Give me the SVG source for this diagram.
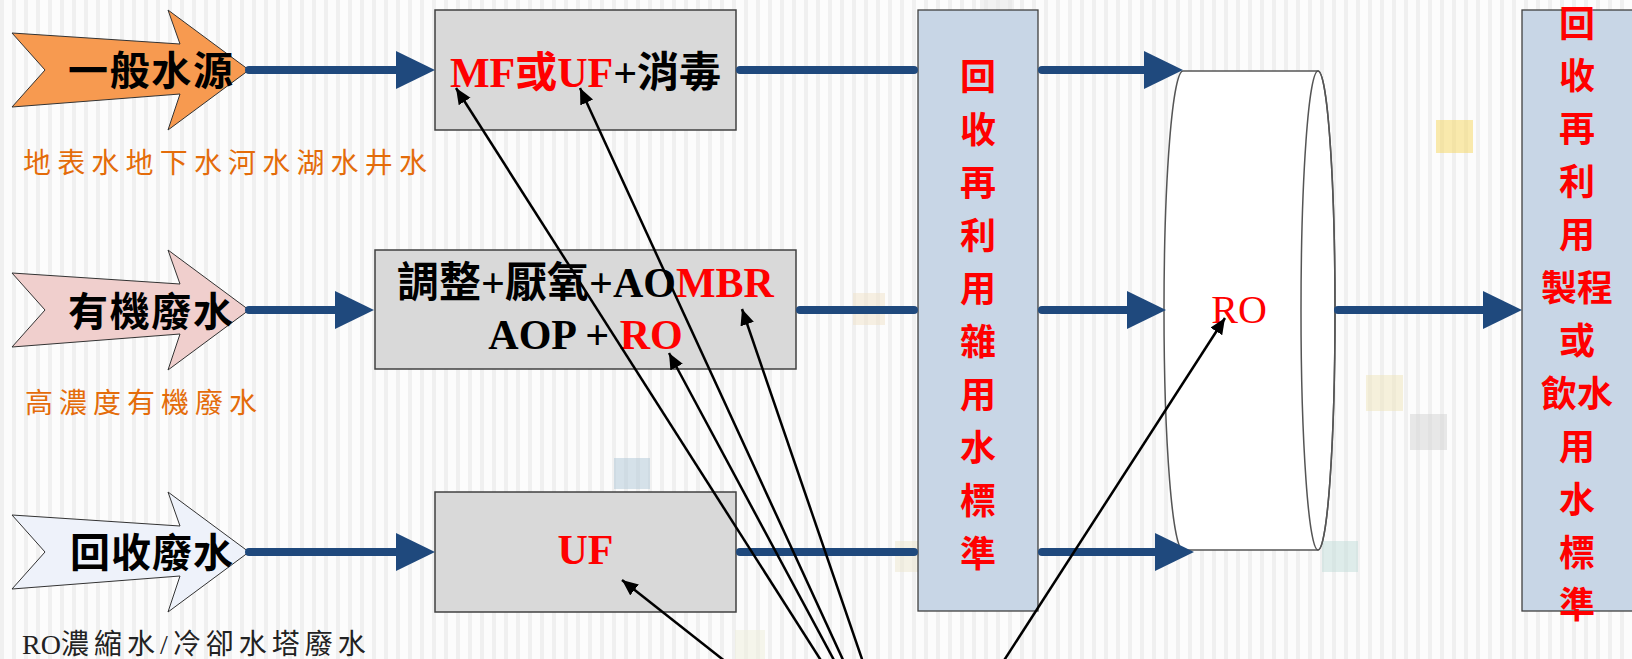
<svg xmlns="http://www.w3.org/2000/svg" width="1632" height="659" viewBox="0 0 1632 659">
<style>
.box{fill:#d9d9d9;stroke:#404040;stroke-width:1.5}
.col{fill:#c8d6e6;stroke:#404040;stroke-width:1.3}
.arr{stroke:#333;stroke-width:1}
.flow{stroke:#1f497d;stroke-width:8;fill:none;stroke-linecap:round}
.ptr{stroke:#000;stroke-width:2.5;fill:none}
.big{font-family:'Liberation Serif','Noto Sans CJK TC',serif;font-weight:bold;font-size:42px}
.atxt{font-family:'Noto Sans CJK TC',sans-serif;font-weight:bold;font-size:40px;fill:#000}
.lbl{font-family:'Liberation Serif','Noto Sans CJK TC',serif;font-size:28px}
.vt{font-family:'Noto Sans CJK TC',sans-serif;font-weight:bold;font-size:36px;fill:#ff0000;text-anchor:middle}
.red{fill:#ff0000}
.sq{opacity:0.55}
</style>
<defs>
<pattern id="stripes" width="12" height="10" patternUnits="userSpaceOnUse">
<rect width="12" height="10" fill="#fcfcfc"/>
<rect x="0" width="4" height="10" fill="#f0f0f0"/>
</pattern>
<marker id="bh" markerUnits="userSpaceOnUse" markerWidth="40" markerHeight="40" refX="19" refY="19" orient="auto">
<path d="M0,0 L39,19 L0,38 Z" fill="#1f497d"/>
</marker>
<marker id="kh" markerUnits="userSpaceOnUse" markerWidth="18" markerHeight="16" refX="16" refY="7" orient="auto">
<path d="M0,0 L16,7 L0,14 Z" fill="#000"/>
</marker>
</defs>
<g id="background">
<rect width="1632" height="659" fill="url(#stripes)"/>
<rect class="sq" x="1436" y="120" width="37" height="33" fill="#f5d86a"/>
<rect class="sq" x="1366" y="375" width="37" height="36" fill="#efe6c0"/>
<rect class="sq" x="1410" y="414" width="37" height="36" fill="#d6d6d6"/>
<rect class="sq" x="614" y="458" width="36" height="31" fill="#b4cad8"/>
<rect class="sq" x="1322" y="541" width="36" height="31" fill="#c4dedb"/>
<rect class="sq" x="895" y="541" width="36" height="31" fill="#ece8d2"/>
<rect class="sq" x="853" y="293" width="32" height="32" fill="#f0e4cc"/>
<rect class="sq" x="735" y="630" width="30" height="29" fill="#eeeedc"/>
<rect class="sq" x="980" y="0" width="34" height="9" fill="#e8e8e8"/>
</g>
<g id="src-general">
<polygon class="arr" fill="#f79a50" points="12,33 180,44 168,10 249,70 168,130 180,94 12,107 45,70"/>
<text class="atxt" x="68" y="85" textLength="165">一般水源</text>
<text class="lbl" x="23" y="173" fill="#e46c0a" textLength="404">地表水地下水河水湖水井水</text>
</g>
<g id="src-organic">
<polygon class="arr" fill="#f0cfcd" points="12,273 180,284 168,250 249,310 168,370 180,334 12,347 45,310"/>
<text class="atxt" x="68" y="326" textLength="165">有機廢水</text>
<text class="lbl" x="25" y="413" fill="#e46c0a" textLength="232">高濃度有機廢水</text>
</g>
<g id="src-recycle">
<polygon class="arr" fill="#eef2fa" points="12,515 180,526 168,492 249,552 168,612 180,576 12,589 45,552"/>
<text class="atxt" x="70" y="567" textLength="163">回收廢水</text>
<text class="lbl" x="22" y="654" fill="#222">RO<tspan letter-spacing="5">濃縮水/冷卻水塔廢水</tspan></text>
</g>
<g id="box-mf">
<rect class="box" x="435" y="10" width="301" height="120"/>
<text class="big" x="585.5" y="87" text-anchor="middle"><tspan class="red">MF或UF</tspan>+消毒</text>
</g>
<g id="box-mbr">
<rect class="box" x="375" y="250" width="421" height="119"/>
<text class="big" x="585.5" y="297" text-anchor="middle">調整+厭氧+AO<tspan class="red">MBR</tspan></text>
<text class="big" x="585.5" y="349" text-anchor="middle" xml:space="preserve">AOP + <tspan class="red">RO</tspan></text>
</g>
<g id="box-uf">
<rect class="box" x="435" y="492" width="301" height="120"/>
<text class="big red" x="585.5" y="564" text-anchor="middle">UF</text>
</g>
<g id="col-misc">
<rect class="col" x="918" y="10" width="120" height="601"/>
<text class="vt"><tspan x="978" y="90">回</tspan><tspan x="978" y="143">收</tspan><tspan x="978" y="196">再</tspan><tspan x="978" y="249">利</tspan><tspan x="978" y="302">用</tspan><tspan x="978" y="355">雜</tspan><tspan x="978" y="408">用</tspan><tspan x="978" y="461">水</tspan><tspan x="978" y="514">標</tspan><tspan x="978" y="567">準</tspan></text>
</g>
<g id="ro-unit">
<path d="M1183,71 L1318,71 A17,239.5 0 0 1 1318,550 L1183,550 A19,239.5 0 0 1 1183,71 Z" fill="#fff" stroke="#555" stroke-width="1.5"/>
<ellipse cx="1318" cy="310.5" rx="17" ry="239.5" fill="none" stroke="#555" stroke-width="1.5"/>
<text x="1239" y="323" text-anchor="middle" font-family="'Liberation Serif',serif" font-size="40" fill="#ff0000">RO</text>
</g>
<g id="col-process">
<rect class="col" x="1522" y="10" width="112" height="601"/>
<text class="vt"><tspan x="1577" y="37">回</tspan><tspan x="1577" y="89">收</tspan><tspan x="1577" y="142">再</tspan><tspan x="1577" y="195">利</tspan><tspan x="1577" y="248">用</tspan><tspan x="1577" y="301">製程</tspan><tspan x="1577" y="354">或</tspan><tspan x="1577" y="407">飲水</tspan><tspan x="1577" y="460">用</tspan><tspan x="1577" y="513">水</tspan><tspan x="1577" y="566">標</tspan><tspan x="1577" y="618">準</tspan></text>
</g>
<g id="flow-connectors">
<line class="flow" x1="249" y1="70" x2="415" y2="70" marker-end="url(#bh)"/>
<line class="flow" x1="740" y1="70" x2="914" y2="70"/>
<line class="flow" x1="1042" y1="70" x2="1163" y2="70" marker-end="url(#bh)"/>
<line class="flow" x1="249" y1="310" x2="354" y2="310" marker-end="url(#bh)"/>
<line class="flow" x1="800" y1="310" x2="914" y2="310"/>
<line class="flow" x1="1042" y1="310" x2="1146" y2="310" marker-end="url(#bh)"/>
<line class="flow" x1="249" y1="552" x2="415" y2="552" marker-end="url(#bh)"/>
<line class="flow" x1="740" y1="552" x2="914" y2="552"/>
<line class="flow" x1="1042" y1="552" x2="1174" y2="552" marker-end="url(#bh)"/>
<line class="flow" x1="1338" y1="310" x2="1502" y2="310" marker-end="url(#bh)"/>
</g>
<g id="pointer-connectors">
<line class="ptr" x1="822" y1="662" x2="456" y2="88" marker-end="url(#kh)"/>
<line class="ptr" x1="835" y1="662" x2="669" y2="353" marker-end="url(#kh)"/>
<line class="ptr" x1="844" y1="662" x2="580" y2="88" marker-end="url(#kh)"/>
<line class="ptr" x1="863" y1="662" x2="742" y2="309" marker-end="url(#kh)"/>
<line class="ptr" x1="726" y1="662" x2="622" y2="580" marker-end="url(#kh)"/>
<line class="ptr" x1="1003" y1="662" x2="1225" y2="318" marker-end="url(#kh)"/>
</g>
</svg>
